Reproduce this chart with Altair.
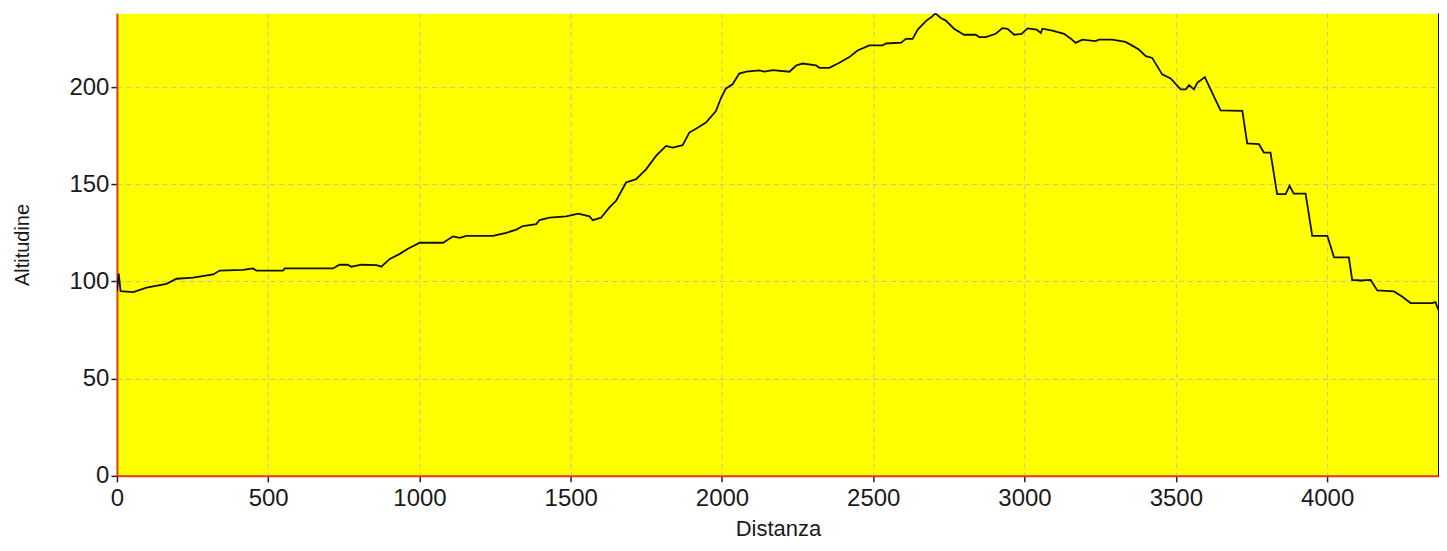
import altair as alt
import pandas as pd

distanza = [0, 6, 12, 54, 98, 164, 197, 252, 318, 340,
            417, 450, 461, 549, 555, 714, 736, 763, 775, 808,
            858, 874, 902, 935, 962, 1001, 1078, 1111, 1133, 1155,
            1243, 1287, 1320, 1342, 1386, 1397, 1430, 1485, 1525, 1562,
            1573, 1600, 1628, 1650, 1683, 1716, 1749, 1782, 1815, 1837,
            1870, 1892, 1914, 1947, 1980, 1997, 2013, 2035, 2057, 2080,
            2124, 2140, 2168, 2223, 2245, 2266, 2311, 2322, 2355, 2388,
            2421, 2448, 2487, 2531, 2542, 2592, 2608, 2630, 2647, 2674,
            2696, 2705, 2723, 2740, 2767, 2800, 2839, 2850, 2872, 2905,
            2927, 2944, 2966, 2990, 3010, 3040, 3054, 3059, 3092, 3131,
            3153, 3169, 3191, 3235, 3246, 3290, 3334, 3356, 3378, 3401,
            3422, 3455, 3483, 3516, 3533, 3544, 3560, 3571, 3596, 3620,
            3648, 3720, 3736, 3775, 3791, 3813, 3835, 3863, 3876, 3890,
            3929, 3951, 4001, 4023, 4072, 4083, 4111, 4144, 4166, 4221,
            4248, 4276, 4347, 4358, 4369]

altitudine = [95, 104, 95, 94.5, 96.8, 98.8, 101.4, 102, 103.6, 105.6,
              106, 106.7, 105.6, 105.6, 106.7, 106.7, 108.6, 108.6, 107.6, 108.6,
              108.4, 107.6, 111.6, 114.2, 116.8, 119.9, 119.9, 123.2, 122.4, 123.4,
              123.4, 125, 126.7, 128.5, 129.5, 131.6, 132.8, 133.5, 134.9, 133.5,
              131.5, 132.8, 138.1, 141.5, 150.9, 152.6, 157.7, 164.6, 169.7, 168.9,
              170.1, 176.6, 178.6, 181.7, 187.7, 194.5, 199.3, 201.4, 206.9, 207.9,
              208.6, 207.9, 208.7, 207.9, 211.1, 212.1, 211.1, 209.9, 209.9, 212.5,
              215.4, 218.8, 221.4, 221.4, 222.4, 222.8, 224.8, 224.8, 229.6, 233.9,
              236.5, 238, 235.5, 234.2, 230, 226.9, 226.9, 225.7, 225.7, 227.4,
              230.3, 230, 226.9, 227.3, 230.2, 229.6, 227.8, 230, 229, 227.4,
              224.9, 222.7, 224.4, 223.6, 224.4, 224.4, 223.2, 221.3, 219.3, 215.9,
              215, 206.5, 204.4, 198.8, 198.8, 201, 198.8, 202.2, 205.1, 197.1,
              188, 187.7, 171, 170.6, 166.3, 166.3, 144.9, 144.9, 149.2, 145.2,
              145.2, 123.5, 123.5, 112.4, 112.4, 100.8, 100.5, 100.8, 95.4, 94.9,
              92.3, 88.9, 88.9, 89.4, 85.1]

x_ticks = [0, 500, 1000, 1500, 2000, 2500, 3000, 3500, 4000]
y_ticks = [0, 50, 100, 150, 200]
x_max = [4370]
y_max = 238

df = pd.DataFrame({"Distanza": distanza, "Altitudine": altitudine})

W, H = 1323, 463
FONT = "Liberation Sans"

x_scale = alt.Scale(domain=[0, x_max[0]], nice=False, zero=True)
y_scale = alt.Scale(domain=[0, y_max], nice=False, zero=True)

grid_kw = dict(grid=True, gridColor="#C8C0A0", gridDash=[5, 4], gridWidth=1,
               tickColor="#222222", tickSize=6, tickWidth=1.5, format="d",
               labelFont=FONT, labelFontSize=24, labelColor="#1a1a1a",
               titleFont=FONT, titleFontWeight="normal", titleColor="#1a1a1a",
               domainColor="#E03A1A", domainWidth=2)

line = alt.Chart(df).mark_line(color="#111111", strokeWidth=1.8, clip=True).encode(
    x=alt.X("Distanza:Q", scale=x_scale,
            axis=alt.Axis(values=x_ticks, title="Distanza", labelPadding=5,
                          titleFontSize=22, titlePadding=8, labelFlush=False,
                          **grid_kw)),
    y=alt.Y("Altitudine:Q", scale=y_scale,
            axis=alt.Axis(values=y_ticks, title="Altitudine", labelPadding=2,
                          titleFontSize=20, titlePadding=36,
                          **grid_kw)),
)

right_edge = alt.Chart(pd.DataFrame({"x": x_max})).mark_rule(
    color="#111111", strokeWidth=2
).encode(x=alt.X("x:Q", scale=x_scale))

chart = alt.layer(line, right_edge).properties(
    width=W, height=H,
    padding={"left": 109, "top": 5, "right": 0, "bottom": 72},
    autosize="none",
    background="white",
).configure_view(fill="#FFFF00", stroke="transparent")

chart.save("out.html", embed_options={"renderer": "svg", "actions": False})
